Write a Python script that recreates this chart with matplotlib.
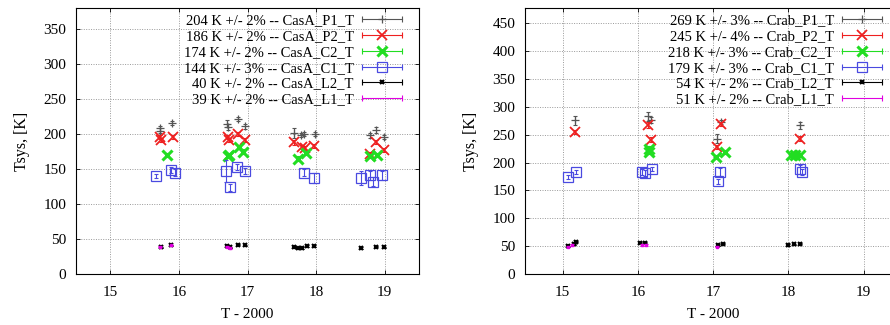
import matplotlib
matplotlib.use("Agg")
import matplotlib.pyplot as plt
from matplotlib.lines import Line2D
from matplotlib.legend_handler import HandlerBase

plt.rcParams['font.family'] = ['Liberation Serif', 'DejaVu Serif']
plt.rcParams['font.size'] = 11

# ---- CasA data (T - 2000, Tsys [K], error) ----
casa_p1_x = [15.72, 15.73, 15.90, 16.70, 16.72, 16.86, 16.97, 17.68, 17.78, 17.83, 17.98, 18.79, 18.87, 18.99]
casa_p1_y = [208, 205, 216, 215, 210, 221, 211, 201, 199, 200, 200, 198, 206, 196]
casa_p1_e = [4, 4, 3, 5, 4, 3, 4, 7, 3, 3, 3, 4, 4, 3]

casa_p2_x = [15.72, 15.74, 15.91, 16.71, 16.73, 16.86, 16.97, 17.68, 17.80, 17.84, 17.97, 18.79, 18.88, 18.99]
casa_p2_y = [196, 191, 196, 196, 192, 200, 192, 188, 182, 180, 183, 172, 189, 177]
casa_p2_e = [3, 3, 3, 3, 3, 3, 3, 3, 3, 3, 3, 3, 3, 3]

casa_c2_x = [15.83, 16.71, 16.73, 16.87, 16.94, 17.74, 17.85, 18.79, 18.89]
casa_c2_y = [170, 169, 170, 182, 175, 165, 173, 169, 170]
casa_c2_e = [3, 3, 3, 3, 3, 3, 3, 3, 3]

casa_c1_x = [15.67, 15.89, 15.94, 16.68, 16.74, 16.85, 16.96, 17.82, 17.97, 18.66, 18.78, 18.83, 18.96]
casa_c1_y = [140, 149, 145, 147, 124, 153, 147, 145, 137, 137, 141, 132, 141]
casa_c1_e = [3, 4, 5, 16, 5, 4, 4, 5, 7, 10, 6, 6, 6]

casa_l2_x = [15.74, 15.89, 16.70, 16.75, 16.86, 16.96, 17.68, 17.74, 17.80, 17.86, 17.97, 18.65, 18.87, 18.99]
casa_l2_y = [38, 41, 40, 38, 42, 41, 38, 37, 37, 40, 40, 37, 39, 38]
casa_l2_e = [1, 1, 1, 1, 1, 1, 1, 1, 1, 1, 1, 1, 1, 1]

casa_l1_x = [15.73, 15.89, 16.70, 16.75]
casa_l1_y = [39, 41, 39, 37]
casa_l1_e = [1, 1, 1, 1]

casa_labels = ['204 K +/- 2% -- CasA_P1_T', '186 K +/- 2% -- CasA_P2_T', '174 K +/- 2% -- CasA_C2_T',
               '144 K +/- 3% -- CasA_C1_T', '40 K +/- 2% -- CasA_L2_T', '39 K +/- 2% -- CasA_L1_T']

# ---- Crab data ----
crab_p1_x = [15.17, 16.14, 16.17, 17.05, 17.10, 18.16]
crab_p1_y = [276, 283, 276, 243, 273, 267]
crab_p1_e = [8, 8, 6, 8, 4, 6]

crab_p2_x = [15.17, 16.14, 16.17, 17.05, 17.11, 18.16]
crab_p2_y = [255, 267, 241, 228, 269, 243]
crab_p2_e = [4, 5, 5, 4, 4, 4]

crab_c2_x = [16.15, 16.15, 17.04, 17.16, 18.03, 18.09, 18.16]
crab_c2_y = [225, 219, 210, 219, 213, 213, 213]
crab_c2_e = [4, 4, 3, 3, 3, 3, 3]

crab_c1_x = [15.07, 15.18, 16.05, 16.09, 16.19, 17.07, 17.09, 18.16, 18.18]
crab_c1_y = [174, 183, 183, 181, 188, 166, 183, 188, 183]
crab_c1_e = [4, 4, 6, 5, 4, 5, 7, 8, 6]

crab_l2_x = [15.07, 15.15, 15.18, 16.03, 16.09, 17.07, 17.13, 18.00, 18.08, 18.16]
crab_l2_y = [50, 53, 58, 56, 56, 52, 54, 52, 53, 54]
crab_l2_e = [1, 1, 1, 1, 1, 1, 1, 1, 1, 1]

crab_l1_x = [15.07, 15.13, 16.05, 16.11, 17.05]
crab_l1_y = [49, 52, 52, 52, 49]
crab_l1_e = [1, 1, 1, 1, 1]

crab_labels = ['269 K +/- 3% -- Crab_P1_T', '245 K +/- 4% -- Crab_P2_T', '218 K +/- 3% -- Crab_C2_T',
               '179 K +/- 3% -- Crab_C1_T', '54 K +/- 2% -- Crab_L2_T', '51 K +/- 2% -- Crab_L1_T']

# style per series: color, marker, size, mew, facecolor
styles = [
    ('#555555', '+', 6, 0.9, None),
    ('#ee2020', 'x', 7, 1.3, None),
    ('#22dd22', 'x', 7, 2.2, None),
    ('#4a4ae0', 's', 7, 0.9, 'none'),
    ('#000000', 'x', 3, 1.5, None),
    ('#e000e0', 's', 2, 1.0, None),
]


class ErrLineHandler(HandlerBase):
    # gnuplot-like key sample: horizontal line with end caps and the point in the middle
    def create_artists(self, legend, orig, xdescent, ydescent, width, height, fontsize, trans):
        col = orig.get_color()
        y = (height - ydescent) / 2.0
        x0, x1 = -xdescent, width - xdescent
        line = Line2D([x0, x1], [y, y], color=col, linewidth=0.8)
        caps = Line2D([x0, x1], [y, y], linestyle='none', marker='|', markersize=5,
                      markeredgewidth=0.8, color=col)
        arts = [line, caps]
        if orig.get_marker() not in (None, 'None', ''):
            mark = Line2D([(x0 + x1) / 2], [y], linestyle='none', marker=orig.get_marker(),
                          markersize=orig.get_markersize(), markeredgewidth=orig.get_markeredgewidth(),
                          color=col, markerfacecolor=orig.get_markerfacecolor())
            arts.append(mark)
        for a in arts:
            a.set_transform(trans)
        return arts


def draw_panel(ax, series, labels, ylim, yticks):
    handles = []
    for (x, y, e), (col, mk, ms, mew, mfc) in zip(series, styles):
        fc = col if mfc is None else mfc
        ax.errorbar(x, y, yerr=e, fmt='none', ecolor=col, elinewidth=0.8, capsize=1.5, capthick=0.8)
        ax.plot(x, y, linestyle='none', marker=mk, markersize=ms, markeredgewidth=mew, color=col,
                markerfacecolor=fc)
        if ms < 3 and mk == 's':
            handles.append(Line2D([], [], color=col, marker=None))
        else:
            handles.append(Line2D([], [], color=col, marker=mk, markersize=ms, markeredgewidth=mew,
                                  markerfacecolor=fc))
    ax.set_xlim(14.5, 19.5)
    ax.set_ylim(*ylim)
    ax.set_xticks([15, 16, 17, 18, 19])
    ax.set_yticks(yticks)
    ax.grid(True, color='#999999', linestyle=(0, (1, 1.5)), linewidth=0.7)
    ax.tick_params(direction='in', top=True, right=True, length=3, width=0.6, labelsize=11)
    ax.tick_params(axis='x', pad=9)
    ax.tick_params(axis='y', pad=7)
    for s in ax.spines.values():
        s.set_linewidth(0.8)
    ax.set_xlabel('T - 2000', fontsize=11, labelpad=6)
    ax.set_ylabel('Tsys, [K]', fontsize=11.5, labelpad=10)
    return handles


fig = plt.figure(figsize=(8.9, 3.25), dpi=100)
ax1 = fig.add_axes([0.0854, 0.157, 0.3854, 0.818])
ax2 = fig.add_axes([0.590, 0.157, 0.4225, 0.818])

casa = [(casa_p1_x, casa_p1_y, casa_p1_e), (casa_p2_x, casa_p2_y, casa_p2_e), (casa_c2_x, casa_c2_y, casa_c2_e),
        (casa_c1_x, casa_c1_y, casa_c1_e), (casa_l2_x, casa_l2_y, casa_l2_e), (casa_l1_x, casa_l1_y, casa_l1_e)]
crab = [(crab_p1_x, crab_p1_y, crab_p1_e), (crab_p2_x, crab_p2_y, crab_p2_e), (crab_c2_x, crab_c2_y, crab_c2_e),
        (crab_c1_x, crab_c1_y, crab_c1_e), (crab_l2_x, crab_l2_y, crab_l2_e), (crab_l1_x, crab_l1_y, crab_l1_e)]

h1 = draw_panel(ax1, casa, casa_labels, (0, 380), range(0, 351, 50))
h2 = draw_panel(ax2, crab, crab_labels, (0, 477), range(0, 451, 50))

for ax, h, lab, anchor in [(ax1, h1, casa_labels, (402 / 890, 311 / 325)),
                           (ax2, h2, crab_labels, (882 / 890, 311 / 325))]:
    ax.legend(h, lab, handler_map={Line2D: ErrLineHandler()}, loc='upper right', markerfirst=False,
              frameon=False, bbox_to_anchor=anchor, bbox_transform=fig.transFigure, fontsize=10.5,
              handlelength=2.75, handletextpad=0.55, labelspacing=0.18, borderpad=0, borderaxespad=0)

fig.savefig('out.png', dpi=100)
